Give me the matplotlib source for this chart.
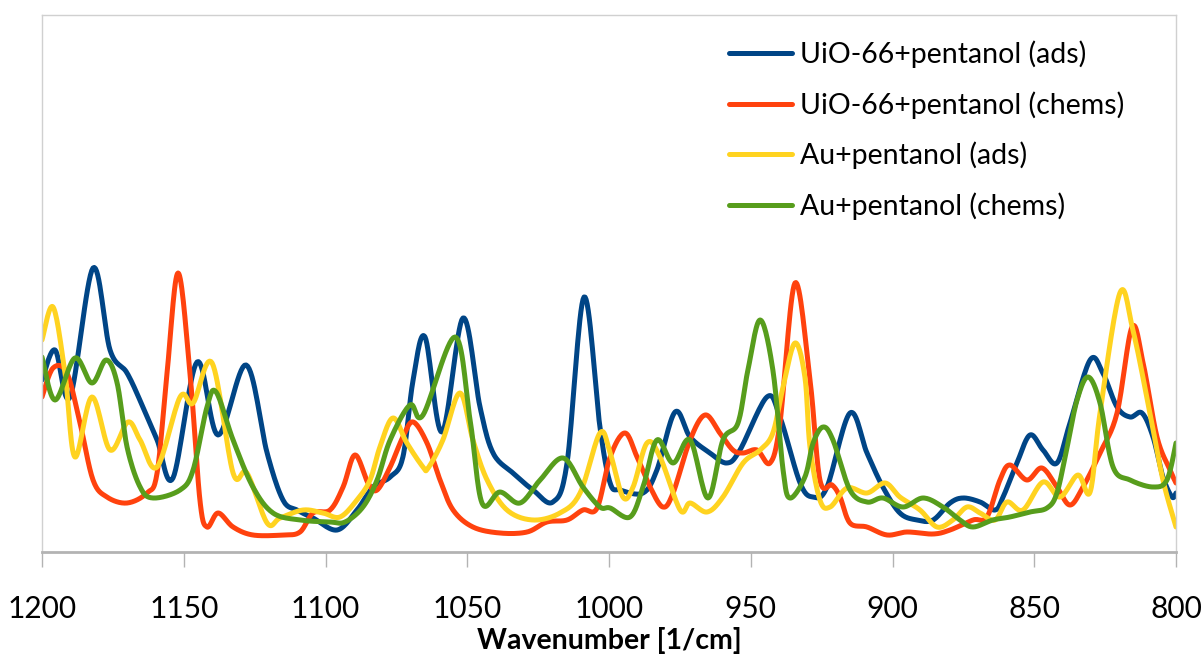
import numpy as np
import matplotlib.pyplot as plt

# ---------------- data ----------------
labels = ['UiO-66+pentanol (ads)', 'UiO-66+pentanol (chems)',
          'Au+pentanol (ads)', 'Au+pentanol (chems)']
colors = ['#004586', '#ff420e', '#ffd320', '#579d1c']

wn_uio_ads = [1200, 1195.4, 1190.1, 1182.0, 1176.0, 1170.0, 1164.4, 1159.4, 1153.8, 1145.3,
              1137.9, 1128.0, 1120.6, 1115.0, 1110.1, 1104.4, 1095.9, 1088.9, 1083.2, 1077.2,
              1072.7, 1069.1, 1064.9, 1058.9, 1051.5, 1045.5, 1040.9, 1033.9, 1026.8, 1019.8,
              1014.8, 1008.8, 1003.2, 999.6, 996.1, 988.0, 983.1, 976.7, 971.4, 964.4,
              958.4, 953.8, 944.3, 939.7, 932.6, 928.0, 923.1, 915.0, 909.0, 903.4,
              897.4, 891.4, 885.7, 879.7, 875.1, 869.1, 863.8, 861.0, 856.1, 851.5,
              846.9, 842.0, 837.4, 830.3, 825.8, 820.8, 816.2, 812.0, 808.1, 804.6,
              801.4, 800]
int_uio_ads = [172, 202, 155, 284, 202, 179, 145, 112, 74, 190,
               117, 187, 99, 52, 42, 34, 22, 42, 65, 75,
               95, 172, 215, 120, 234, 145, 99, 79, 62, 50,
               89, 255, 125, 69, 62, 59, 82, 140, 115, 99,
               89, 102, 155, 135, 69, 55, 65, 139, 99, 65,
               39, 32, 32, 49, 54, 50, 42, 55, 89, 117,
               102, 89, 129, 192, 179, 145, 135, 139, 115, 75,
               55, 59]

wn_uio_chem = [1200, 1196.1, 1191.2, 1186.6, 1182.0, 1177.1, 1170.0, 1163.0, 1159.4, 1155.9,
               1152.0, 1147.8, 1144.3, 1141.8, 1137.9, 1132.6, 1125.6, 1115.0, 1109.0, 1104.4,
               1098.4, 1093.8, 1089.6, 1085.0, 1081.8, 1077.2, 1072.7, 1069.1, 1064.2, 1059.6,
               1055.0, 1048.0, 1038.5, 1028.9, 1021.9, 1014.8, 1009.2, 1004.2, 999.6, 994.4,
               990.1, 985.5, 981.0, 977.4, 971.4, 966.1, 960.9, 956.3, 952.7, 947.8,
               943.2, 939.7, 934.4, 929.1, 925.6, 921.3, 918.5, 915.0, 909.0, 901.9,
               894.9, 885.7, 879.7, 871.6, 866.7, 862.1, 858.6, 852.6, 847.3, 842.0,
               837.4, 832.8, 826.8, 820.8, 815.5, 811.6, 806.7, 802.1, 800]
int_uio_chem = [155, 184, 179, 129, 72, 55, 49, 59, 79, 179,
                279, 179, 52, 25, 39, 25, 17, 17, 20, 39,
                42, 65, 97, 69, 62, 85, 115, 130, 109, 72,
                42, 25, 19, 20, 30, 32, 42, 44, 95, 119,
                95, 65, 45, 59, 112, 137, 119, 102, 99, 102,
                89, 129, 269, 172, 72, 67, 55, 29, 25, 17,
                20, 18, 22, 32, 35, 72, 87, 72, 84, 65,
                47, 65, 99, 139, 225, 189, 115, 82, 69]

wn_au_ads = [1200, 1196.1, 1191.9, 1188.4, 1182.4, 1176.0, 1169.7, 1165.4, 1159.4, 1151.3,
             1146.7, 1140.0, 1132.6, 1127.7, 1120.6, 1116.0, 1107.9, 1100.9, 1094.9, 1088.9,
             1084.3, 1080.8, 1076.2, 1071.3, 1065.6, 1063.8, 1058.6, 1052.6, 1048.0, 1043.0,
             1036.0, 1026.8, 1017.3, 1010.2, 1003.2, 999.6, 995.1, 991.5, 986.6, 982.0,
             974.9, 971.4, 965.4, 959.8, 952.7, 946.7, 942.2, 938.6, 934.4, 930.9,
             929.1, 925.6, 922.0, 916.0, 909.0, 902.6, 897.4, 890.3, 884.3, 878.7,
             873.7, 869.1, 863.8, 859.6, 854.0, 846.9, 840.9, 834.6, 830.3, 826.8,
             819.8, 815.2, 809.2, 804.6, 800]
int_au_ads = [212, 245, 179, 95, 155, 102, 130, 112, 85, 155,
              149, 189, 79, 79, 29, 34, 42, 39, 35, 52,
              72, 105, 134, 109, 85, 84, 112, 159, 112, 72,
              42, 32, 39, 59, 119, 99, 55, 65, 109, 95,
              42, 49, 40, 55, 89, 102, 119, 165, 209, 175,
              105, 52, 45, 64, 59, 69, 55, 42, 25, 32,
              45, 39, 32, 50, 42, 70, 55, 77, 60, 139,
              259, 222, 139, 72, 25]

wn_au_chem = [1200, 1195.4, 1188.4, 1182.4, 1177.4, 1173.5, 1170.0, 1165.4, 1160.8, 1151.3,
              1146.7, 1141.8, 1138.6, 1132.6, 1125.6, 1118.5, 1109.0, 1098.4, 1093.1, 1086.8,
              1081.8, 1077.2, 1070.2, 1065.6, 1054.3, 1049.0, 1044.8, 1038.5, 1031.4, 1024.3,
              1016.2, 1009.2, 1003.2, 999.6, 992.6, 988.0, 983.1, 977.4, 971.4, 965.1,
              959.8, 954.5, 951.0, 946.7, 942.2, 938.6, 936.2, 930.9, 928.0, 924.5,
              921.0, 915.0, 909.0, 903.4, 896.3, 889.2, 882.2, 876.2, 871.6, 864.6,
              858.6, 851.5, 845.5, 842.0, 838.4, 834.9, 831.0, 826.8, 822.2, 816.2,
              808.1, 803.2, 800]
int_au_chem = [195, 152, 194, 169, 192, 169, 105, 65, 54, 62,
               82, 145, 160, 112, 65, 39, 32, 30, 30, 45,
               72, 112, 147, 137, 215, 132, 49, 60, 49, 72,
               94, 65, 45, 44, 35, 65, 112, 89, 112, 54,
               112, 129, 182, 232, 182, 82, 54, 75, 109, 125,
               112, 62, 50, 54, 45, 54, 45, 32, 25, 32,
               35, 40, 44, 59, 105, 152, 175, 149, 85, 72,
               65, 72, 109]

series = [(wn_uio_ads, int_uio_ads), (wn_uio_chem, int_uio_chem),
          (wn_au_ads, int_au_ads), (wn_au_chem, int_au_chem)]


# smoothed line like the spreadsheet one (catmull-rom through the points)
def smooth(x, y, n=16):
    p = np.column_stack([np.asarray(x, float), np.asarray(y, float)])
    p = np.vstack([p[0], p, p[-1]])
    t = np.linspace(0, 1, n, endpoint=False)[:, None]
    out = []
    for i in range(1, len(p) - 2):
        p0, p1, p2, p3 = p[i - 1], p[i], p[i + 1], p[i + 2]
        seg = 0.5 * (2 * p1 + (-p0 + p2) * t
                     + (2 * p0 - 5 * p1 + 4 * p2 - p3) * t ** 2
                     + (-p0 + 3 * p1 - 3 * p2 + p3) * t ** 3)
        out.append(seg)
    out.append(p[-2][None, :])
    out = np.vstack(out)
    return out[:, 0], out[:, 1]


# ---------------- plot ----------------
plt.rcParams['font.family'] = ['Lato', 'DejaVu Sans']

fig = plt.figure(figsize=(12.02, 6.6), dpi=100)
ax = fig.add_axes([42 / 1202, 1 - 552 / 660, 1134 / 1202, 537 / 660])

for (wn, val), lab, c in zip(series, labels, colors):
    xs, ys = smooth(wn, val)
    ax.plot(xs, ys, color=c, lw=3.6, label=lab, solid_capstyle='round')

ax.set_xlim(1200, 800)
ax.set_ylim(0, 537)
ax.set_xticks(np.arange(800, 1201, 50))
ax.set_yticks([])
ax.tick_params(axis='x', length=11, width=1, color='#b3b3b3', pad=20, labelsize=21.5)
ax.set_xlabel('Wavenumber [1/cm]', fontsize=20.5, fontweight='bold', labelpad=3)

for s in ['left', 'right', 'top']:
    ax.spines[s].set_color('#d0d0d0')
    ax.spines[s].set_linewidth(1)
ax.spines['bottom'].set_color('#b3b3b3')
ax.spines['bottom'].set_linewidth(2)

ax.legend(loc='upper left', bbox_to_anchor=(0.606, 0.952), frameon=False,
          fontsize=20.5, handlelength=2.2, handletextpad=0.3, labelspacing=0.8,
          borderpad=0, borderaxespad=0)

fig.savefig('out.png', dpi=100)
